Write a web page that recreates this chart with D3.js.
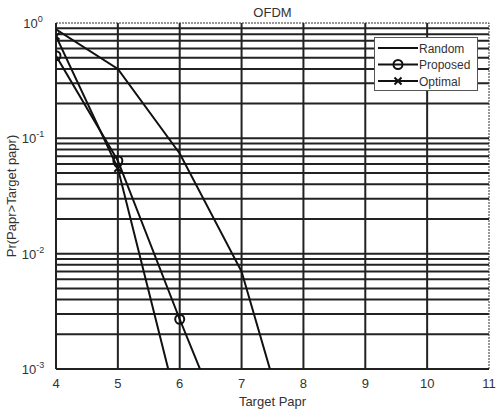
<!DOCTYPE html>
<html>
<head>
<meta charset="utf-8">
<script src="https://cdn.jsdelivr.net/npm/d3@7"></script>
<style>
  body { margin: 0; background: #fff; }
  text { font-family: "Liberation Sans", Arial, sans-serif; fill: #333; }
</style>
</head>
<body>
<script>
// data
const papr = [4, 5, 6, 7, 8];
const random = [0.88, 0.40, 0.074, 0.0070, 0.0001];
const proposedX = [4, 5, 6, 7];
const proposed = [0.52, 0.064, 0.0027, 0.00013];
const optimalX = [4, 5, 6];
const optimal = [0.77, 0.055, 0.0004];
const xTicks = [4, 5, 6, 7, 8, 9, 10, 11];
const yTicks = [1e-3, 1e-2, 1e-1, 1e0];
const yExp = ['-3', '-2', '-1', '0'];

const width = 496;
const height = 414;
const margin = { top: 23, right: 7, bottom: 45, left: 56 };

const svg = d3.select('body').append('svg')
  .attr('width', width).attr('height', height);

const x = d3.scaleLinear().domain([4, 11]).range([margin.left, width - margin.right]);
const y = d3.scaleLog().domain([1e-3, 1]).range([height - margin.bottom, margin.top]);

svg.append('clipPath').attr('id', 'clip').append('rect')
  .attr('x', margin.left).attr('y', margin.top)
  .attr('width', x(11) - x(4)).attr('height', y(1e-3) - y(1));

// grid: horizontal at every minor log tick, vertical at each integer
const minor = [];
[1e-3, 1e-2, 1e-1].forEach(d => { for (let k = 1; k < 10; k++) minor.push(d * k); });

const grid = svg.append('g').attr('stroke', '#222').attr('stroke-width', 2);
grid.selectAll('line.h').data(minor.filter(d => d > 1e-3)).join('line')
  .attr('class', 'h')
  .attr('x1', x(4)).attr('x2', x(11))
  .attr('y1', d => y(d)).attr('y2', d => y(d));
grid.selectAll('line.v').data(xTicks.slice(1, -1)).join('line')
  .attr('class', 'v')
  .attr('x1', d => x(d)).attr('x2', d => x(d))
  .attr('y1', y(1)).attr('y2', y(1e-3));

// frame
svg.append('rect')
  .attr('x', x(4)).attr('y', y(1))
  .attr('width', x(11) - x(4)).attr('height', y(1e-3) - y(1))
  .attr('fill', 'none').attr('stroke', '#333').attr('stroke-width', 1)
  .attr('stroke-dasharray', '2,1');
svg.append('line').attr('x1', x(4)).attr('x2', x(4)).attr('y1', y(1)).attr('y2', y(1e-3))
  .attr('stroke', '#222').attr('stroke-width', 2);
svg.append('line').attr('x1', x(4)).attr('x2', x(11)).attr('y1', y(1e-3)).attr('y2', y(1e-3))
  .attr('stroke', '#222').attr('stroke-width', 2);

// x tick labels
svg.append('g').selectAll('text').data(xTicks).join('text')
  .attr('x', d => x(d)).attr('y', y(1e-3) + 19)
  .attr('text-anchor', 'middle').attr('font-size', 13)
  .text(d => d);

// y tick labels 10^n
const yl = svg.append('g').selectAll('text').data(yTicks).join('text')
  .attr('x', x(4) - 23).attr('y', d => y(d) + 5)
  .attr('text-anchor', 'middle').attr('font-size', 13);
yl.append('tspan').text('10');
yl.append('tspan').attr('dy', -6).attr('font-size', 9).text((d, i) => yExp[i]);

// axis titles
svg.append('text').attr('x', (x(4) + x(11)) / 2).attr('y', 17)
  .attr('text-anchor', 'middle').attr('font-size', 13).attr('fill', '#111').text('OFDM');
svg.append('text').attr('x', (x(4) + x(11)) / 2).attr('y', 406)
  .attr('text-anchor', 'middle').attr('font-size', 13).text('Target Papr');
svg.append('text')
  .attr('transform', `translate(16,${(y(1) + y(1e-3)) / 2}) rotate(-90)`)
  .attr('text-anchor', 'middle').attr('font-size', 13).text('Pr(Papr>Target papr)');

// series
const plot = svg.append('g').attr('clip-path', 'url(#clip)');
const line = d3.line().x(d => x(d[0])).y(d => y(d[1]));

const series = [
  { xs: papr, ys: random, marker: 'none' },
  { xs: proposedX, ys: proposed, marker: 'circle' },
  { xs: optimalX, ys: optimal, marker: 'cross' }
];

function drawMarker(g, type, cx, cy) {
  if (type === 'circle') {
    g.append('circle').attr('cx', cx).attr('cy', cy).attr('r', 4.5)
      .attr('fill', 'none').attr('stroke', '#111').attr('stroke-width', 2);
  } else if (type === 'cross') {
    const s = 3.5;
    g.append('path')
      .attr('d', `M${cx - s},${cy - s}L${cx + s},${cy + s}M${cx - s},${cy + s}L${cx + s},${cy - s}`)
      .attr('stroke', '#111').attr('stroke-width', 2);
  }
}

series.forEach(s => {
  const pts = s.xs.map((v, i) => [v, s.ys[i]]);
  plot.append('path').attr('d', line(pts))
    .attr('fill', 'none').attr('stroke', '#111').attr('stroke-width', 2);
  pts.forEach(p => drawMarker(plot, s.marker, x(p[0]), y(p[1])));
});

// legend
const names = ['Random', 'Proposed', 'Optimal'];
const leg = svg.append('g');
leg.append('rect').attr('x', 374.5).attr('y', 37.5).attr('width', 103).attr('height', 53)
  .attr('fill', '#fff').attr('stroke', '#555').attr('stroke-width', 1);
names.forEach((n, i) => {
  const ly = 48 + i * 16.5;
  leg.append('line').attr('x1', 378).attr('x2', 418).attr('y1', ly).attr('y2', ly)
    .attr('stroke', '#111').attr('stroke-width', 2);
  drawMarker(leg, series[i].marker, 398, ly);
  leg.append('text').attr('x', 419).attr('y', ly + 4.5).attr('font-size', 12).text(n);
});
</script>
</body>
</html>
